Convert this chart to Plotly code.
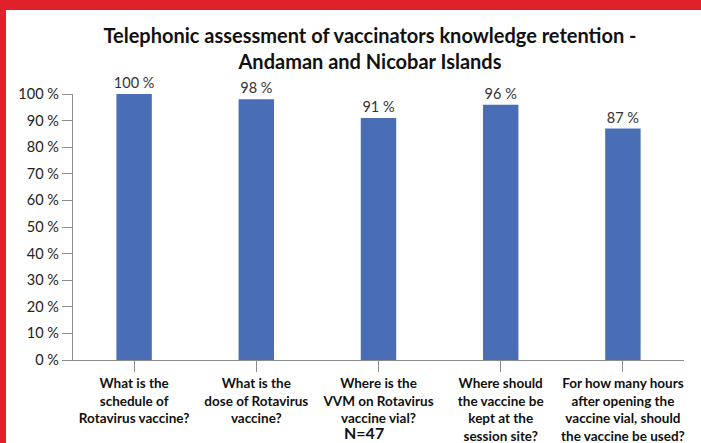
import plotly.graph_objects as go

categories = [
    "What is the<br>schedule of<br>Rotavirus vaccine?",
    "What is the<br>dose of Rotavirus<br>vaccine?",
    "Where is the<br>VVM on Rotavirus<br>vaccine vial?",
    "Where should<br>the vaccine be<br>kept at the<br>session site?",
    "For how many hours<br>after opening the<br>vaccine vial, should<br>the vaccine be used?",
]
values = [100, 98, 91, 96, 87]
y_ticks = [0, 10, 20, 30, 40, 50, 60, 70, 80, 90, 100]
title_text = "Telephonic assessment of vaccinators knowledge retention -<br>Andaman and Nicobar Islands"
note_text = "N=47"

W, H = 701, 443
L, R, T, B = 73, 17, 94, 83
pw, ph = W - L - R, H - T - B

def px_x(x):
    return (x - L) / pw

def px_y(y):
    return (H - B - y) / ph

FONT = "Lato"

fig = go.Figure()
fig.add_trace(go.Bar(
    x=list(range(len(categories))),
    y=values,
    width=0.29,
    marker=dict(color="#4A6EB6", line=dict(width=0)),
    text=[f"{v} %" for v in values],
    textposition="outside",
    constraintext="none",
    cliponaxis=False,
    textfont=dict(family=FONT, size=14.5, color="#333333"),
    hoverinfo="skip",
))

red = "#E0202A"
shapes = [
    dict(type="rect", xref="paper", yref="paper",
         x0=px_x(0), x1=px_x(W), y0=px_y(10), y1=px_y(0),
         fillcolor=red, line=dict(width=0), layer="above"),
    dict(type="rect", xref="paper", yref="paper",
         x0=px_x(0), x1=px_x(6), y0=px_y(H), y1=px_y(0),
         fillcolor=red, line=dict(width=0), layer="above"),
]

fig.update_layout(
    width=W, height=H,
    margin=dict(l=L, r=R, t=T, b=B, autoexpand=False),
    paper_bgcolor="white",
    plot_bgcolor="white",
    showlegend=False,
    title=dict(
        text=f"<b>{title_text}</b>",
        x=370 / W, xanchor="center",
        y=1 - 43 / H, yanchor="middle",
        font=dict(family=FONT, size=20, color="#111111"),
    ),
    xaxis=dict(
        tickmode="array",
        tickvals=list(range(len(categories))),
        ticktext=[f"<b>{c}</b>" for c in categories],
        range=[-0.5, len(categories) - 0.5],
        automargin=False,
        showline=True, linecolor="#8c8c8c", linewidth=1.3,
        ticks="outside", ticklen=11, tickcolor="#8c8c8c", tickwidth=1.3,
        showgrid=False, zeroline=False,
        tickfont=dict(family=FONT, size=13.5, color="#111111"),
        fixedrange=True,
    ),
    yaxis=dict(
        range=[0, 100],
        tickmode="array",
        tickvals=y_ticks,
        ticktext=[f"{v} %" for v in y_ticks],
        automargin=False,
        showline=True, linecolor="#8c8c8c", linewidth=1.3,
        ticks="outside", ticklen=10, tickcolor="#8c8c8c", tickwidth=1.3,
        showgrid=False, zeroline=False,
        tickfont=dict(family=FONT, size=14.5, color="#222222"),
        fixedrange=True,
    ),
    shapes=shapes,
    annotations=[dict(
        text=f"<b>{note_text}</b>", xref="paper", yref="paper",
        x=px_x(364), y=px_y(444), xanchor="center", yanchor="bottom",
        showarrow=False, font=dict(family=FONT, size=16, color="#111111"),
    )],
)

fig.write_html(
    "out.html",
    config={"displayModeBar": False},
    post_script="document.body.style.margin='0';document.body.style.overflow='hidden';",
)
